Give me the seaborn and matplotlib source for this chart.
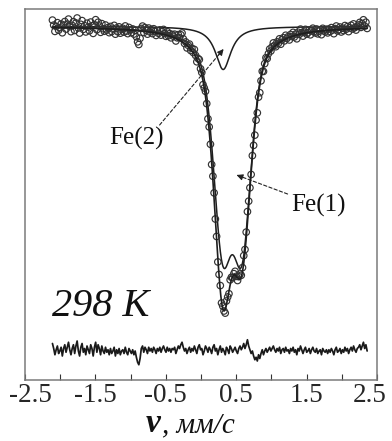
import numpy as np
import pandas as pd
import matplotlib
matplotlib.use("Agg")
import matplotlib.pyplot as plt
from matplotlib.transforms import ScaledTranslation
import seaborn as sns

# ---------------- data ----------------
# velocity channels (mm/s)
v_start, v_stop, n_channels = -2.11, 2.36, 256

# relative transmission (%) model
baseline = 100.0
fe1_centers = [0.3045, 0.5845]          # Fe(1) doublet line positions, mm/s
fe1_depths = [8.08, 8.08]               # % absorption of each line
fe1_gauss_sigma = 0.121                 # mm/s
fe1_lorentz_hwhm = 0.178                # mm/s
fe1_lorentz_fraction = 0.5
fe2_center = 0.315                      # Fe(2) singlet, mm/s
fe2_hwhm = 0.135
fe2_depth = 1.72

# residual (data - fit), in units of 0.05 %
residual_raw = [
    6, 2, -3, 1, 4, -2, 0, 3, -4, 2, 5, -1, 3, 7, 1, -3, 2, 5, -2, 4, 8, 0, -4, 3, 6, -1, 2, -3, 4, 1, -2, 5,
    2, -4, 3, 7, -1, 5, 2, -3, 4, 0, -2, 3, -1, 1, -3, 2, -2, 0, 3, -4, 1, -2, 2, -3, 0, 1, -2, 3, -1, -3, 2, 0,
    -2, 1, -3, 0, -5, -9, -11, -6, 2, 4, -1, 3, 1, -2, 3, 0, 2, -1, 3, 1, -2, 2, 0, 3, -1, 2, 4, 1, -1, 3, 0, 2,
    -1, 2, 1, 3, -2, 1, 4, 2, 5, 7, 3, 0, 2, -2, 1, 3, -1, 2, 0, 4, 1, -2, 3, 5, 1, 2, -3, 0, 4, 2, -1, 3,
    1, -2, 3, 5, 0, 2, -3, 1, 4, -1, 2, 0, -3, 3, 1, -2, 4, 2, -1, 1, 3, 0, -2, 2, 4, 1, 3, 6, 2, 5, 9, 4,
    1, -2, 0, -4, -7, -5, -8, -3, -6, -2, 1, -3, 0, 2, -1, 1, 3, 0, 2, 4, 1, -1, 2, 0, 3, -2, 1, 2, -1, 3, 0, 1,
    -2, 2, 0, 3, -1, 1, -3, 2, 0, 4, 1, -2, 1, 3, -1, 0, 2, -2, 1, 3, 0, -1, 2, -2, 0, 1, -3, 2, 0, -1, 1, -2,
    1, -1, 2, 0, -3, 1, 3, -1, 0, 2, -2, 1, -1, 3, 0, 2, -2, 1, 3, 0, 4, 1, -1, 2, 3, 5, 1, 4, 7, 2, 5, 0,
]
residual_unit = 0.05
residual_offset = 87.02

tick_values = [-2.5, -2.0, -1.5, -1.0, -0.5, 0.0, 0.5, 1.0, 1.5, 2.0, 2.5]
tick_labels = ["-2.5", "", "-1.5", "", "-0.5", "", "0.5", "", "1.5", "", "2.5"]
temperature_label = "298 K"

# ---------------- model ----------------
def fe1_absorption(x):
    tot = np.zeros_like(x)
    for c, d in zip(fe1_centers, fe1_depths):
        lor = 1.0 / (1.0 + ((x - c) / fe1_lorentz_hwhm) ** 2)
        gau = np.exp(-((x - c) ** 2) / (2 * fe1_gauss_sigma ** 2))
        tot += d * (fe1_lorentz_fraction * lor + (1 - fe1_lorentz_fraction) * gau)
    return tot


def fe2_absorption(x):
    return fe2_depth / (1.0 + ((x - fe2_center) / fe2_hwhm) ** 2)


v = np.linspace(v_start, v_stop, n_channels)
vf = np.linspace(v_start, v_stop, 1500)
resid = np.array(residual_raw) * residual_unit
counts = baseline - fe1_absorption(v) - fe2_absorption(v) + resid

df_pts = pd.DataFrame({"v": v, "T": counts})
df_fit = pd.DataFrame({
    "v": vf,
    "total": baseline - fe1_absorption(vf) - fe2_absorption(vf),
    "fe1": baseline - fe1_absorption(vf),
    "fe2": baseline - fe2_absorption(vf),
})
df_res = pd.DataFrame({"v": v, "r": residual_offset + resid})

# ---------------- plotting ----------------
sns.set_theme(style="ticks")
plt.rcParams["font.family"] = ["Liberation Serif", "DejaVu Serif"]

fig = plt.figure(figsize=(3.92, 4.41), dpi=100)
ax = fig.add_axes([25 / 392, 61 / 441, 352 / 392, 371 / 441])

line_col = "#1e1e1e"
sns.lineplot(data=df_fit, x="v", y="fe2", ax=ax, color=line_col, lw=1.1, estimator=None, sort=False)
sns.lineplot(data=df_fit, x="v", y="fe1", ax=ax, color=line_col, lw=1.1, estimator=None, sort=False)
sns.scatterplot(data=df_pts, x="v", y="T", ax=ax, marker="o", s=22,
                color="none", edgecolor="#333333", linewidth=0.85, zorder=3)
sns.lineplot(data=df_fit, x="v", y="total", ax=ax, color=line_col, lw=1.2, estimator=None, sort=False, zorder=4)
sns.lineplot(data=df_res, x="v", y="r", ax=ax, color="#1a1a1a", lw=1.25, estimator=None, sort=False)

ax.set_xlim(-2.5, 2.5)
ax.set_ylim(85.86, 100.70)
ax.set_xticks(tick_values)
ax.set_xticklabels(tick_labels, fontsize=19.5)
ax.set_yticks([])
ax.set_xlabel("")
ax.set_ylabel("")
ax.tick_params(axis="x", direction="in", length=4, width=0.8, color="#333333", pad=2)
for sp in ax.spines.values():
    sp.set_visible(True)
    sp.set_color("#7a7a7a")
    sp.set_linewidth(1.1)

# nudge the edge labels inward as in the reference
labs = ax.get_xticklabels()
labs[0].set_transform(labs[0].get_transform() + ScaledTranslation(5 / 100, 0, fig.dpi_scale_trans))
labs[-1].set_transform(labs[-1].get_transform() + ScaledTranslation(-7 / 100, 0, fig.dpi_scale_trans))

# annotations
dash = dict(arrowstyle="-", linestyle=(0, (3, 2)), lw=0.8, color="#222222", shrinkA=0, shrinkB=0)
head = dict(arrowstyle="-|>", lw=0.8, color="#222222", mutation_scale=9, shrinkA=0, shrinkB=0)

ax.annotate("", xy=(0.321, 99.10), xytext=(-0.588, 96.06), arrowprops=dash)
ax.annotate("", xy=(0.321, 99.10), xytext=(0.25, 98.86), arrowprops=head)
ax.text(-0.915, 95.26, "Fe(2)", fontsize=18, ha="center", va="baseline", color="#111111")

ax.annotate("", xy=(0.506, 94.06), xytext=(1.230, 93.30), arrowprops=dash)
ax.annotate("", xy=(0.506, 94.06), xytext=(0.59, 93.97), arrowprops=head)
ax.text(1.663, 92.59, "Fe(1)", fontsize=18, ha="center", va="baseline", color="#111111")

ax.text(-2.122, 88.42, temperature_label, fontsize=29, fontstyle="italic",
        ha="left", va="baseline", color="#111111")

fig.text(161 / 392, 1 - 432 / 441, "v", fontsize=24, fontstyle="italic", fontweight="bold",
         ha="right", va="baseline", color="#111111")
fig.text(162 / 392, 1 - 432 / 441, ", мм/с", fontsize=21, fontstyle="italic",
         ha="left", va="baseline", color="#111111")

fig.savefig("out.png", dpi=100)
